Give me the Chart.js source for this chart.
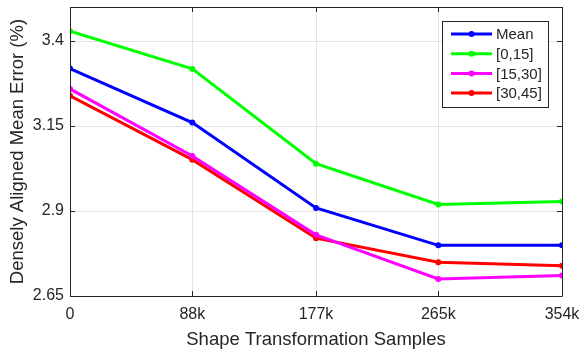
<!DOCTYPE html>
<html><head><meta charset="utf-8">
<script src="https://cdn.jsdelivr.net/npm/chart.js@4"></script>
<style>html,body{margin:0;padding:0;background:#fff}#wrap{width:581px;height:352px}</style>
</head><body><div id="wrap"><canvas id="c" width="581" height="352"></canvas></div>
<script>
const samples = [0, 88, 177, 265, 354];
const xTickLabels = ['0', '88k', '177k', '265k', '354k'];
const yTicks = [2.65, 2.9, 3.15, 3.4];
const seriesNames = ['Mean', '[0,15]', '[15,30]', '[30,45]'];
const meanVals = [3.319, 3.160, 2.909, 2.799, 2.799];
const r0_15 = [3.429, 3.318, 3.039, 2.919, 2.928];
const r15_30 = [3.259, 3.062, 2.830, 2.700, 2.710];
const r30_45 = [3.239, 3.051, 2.820, 2.749, 2.739];
const colors = ['#0000ff', '#00ff00', '#ff00ff', '#ff0000'];

const TXT = '#262626';
const FONT = '"Liberation Sans", Arial, Helvetica, sans-serif';

const allVals = [meanVals, r0_15, r15_30, r30_45];
const datasets = allVals.map((vals, i) => ({
  label: seriesNames[i],
  data: samples.map((s, j) => ({x: s, y: vals[j]})),
  borderColor: colors[i],
  backgroundColor: colors[i],
  borderWidth: 3,
  pointRadius: 3,
  pointHoverRadius: 3,
  pointBorderWidth: 0,
  tension: 0
}));

const boxPlugin = {
  id: 'box',
  afterDatasetsDraw(chart) {
    const {ctx, chartArea: a, scales} = chart;
    ctx.save();
    ctx.strokeStyle = TXT;
    ctx.lineWidth = 1;
    ctx.beginPath();
    ctx.rect(Math.round(a.left) + 0.5, Math.round(a.top) + 0.5, Math.round(a.right - a.left), Math.round(a.bottom - a.top));
    ctx.stroke();
    ctx.beginPath();
    const tl = 5;
    samples.forEach(s => {
      const x = Math.round(scales.x.getPixelForValue(s)) + 0.5;
      ctx.moveTo(x, a.bottom); ctx.lineTo(x, a.bottom - tl);
      ctx.moveTo(x, a.top); ctx.lineTo(x, a.top + tl);
    });
    yTicks.forEach(v => {
      const y = Math.round(scales.y.getPixelForValue(v)) + 0.5;
      ctx.moveTo(a.left, y); ctx.lineTo(a.left + tl, y);
      ctx.moveTo(a.right, y); ctx.lineTo(a.right - tl, y);
    });
    ctx.stroke();
    const lx = 442, ly = 21, lw = 106, lh = 86;
    ctx.fillStyle = '#fff';
    ctx.fillRect(lx, ly, lw, lh);
    ctx.strokeStyle = TXT;
    ctx.strokeRect(lx + 0.5, ly + 0.5, lw, lh);
    ctx.font = '15px ' + FONT;
    ctx.textBaseline = 'middle';
    chart.data.datasets.forEach((d, i) => {
      const y = 34 + i * 19.7;
      ctx.strokeStyle = d.borderColor;
      ctx.lineWidth = 3;
      ctx.beginPath(); ctx.moveTo(451, y); ctx.lineTo(492, y); ctx.stroke();
      ctx.fillStyle = d.borderColor;
      ctx.beginPath(); ctx.arc(471.5, y, 3, 0, Math.PI * 2); ctx.fill();
      ctx.fillStyle = TXT;
      ctx.fillText(d.label, 496, y + 1);
    });
    ctx.restore();
  }
};

new Chart(document.getElementById('c'), {
  type: 'line',
  data: {datasets},
  options: {
    responsive: false,
    animation: false,
    devicePixelRatio: 1,
    layout: {padding: {left: 0, right: 19, top: 7, bottom: 0}},
    plugins: {legend: {display: false}, tooltip: {enabled: false}},
    scales: {
      x: {
        type: 'linear', min: 0, max: 354,
        afterBuildTicks: s => { s.ticks = samples.map(v => ({value: v})); },
        afterFit: s => { s.height = 56; s.paddingLeft = 0; s.paddingRight = 0; },
        ticks: {
          autoSkip: false, maxRotation: 0, color: TXT, padding: 9,
          font: {family: FONT, size: 16},
          callback: (v) => xTickLabels[samples.indexOf(v)]
        },
        grid: {color: '#e3e3e3', drawTicks: false, lineWidth: 1},
        border: {display: false},
        title: {display: true, text: 'Shape Transformation Samples', color: TXT,
          font: {family: FONT, size: 18.5}, padding: {top: 4, bottom: 1}}
      },
      y: {
        type: 'linear', min: 2.65, max: 3.5,
        afterBuildTicks: s => { s.ticks = yTicks.map(v => ({value: v})); },
        afterFit: s => { s.width = 70; s.paddingTop = 0; s.paddingBottom = 0; },
        ticks: {
          color: TXT, padding: 6,
          font: {family: FONT, size: 16},
          callback: (v) => String(v)
        },
        grid: {color: '#e3e3e3', drawTicks: false, lineWidth: 1},
        border: {display: false},
        title: {display: true, text: 'Densely Aligned Mean Error (%)', color: TXT,
          font: {family: FONT, size: 18.5}, padding: {top: 7, bottom: 4}}
      }
    }
  },
  plugins: [boxPlugin]
});
</script></body></html>
